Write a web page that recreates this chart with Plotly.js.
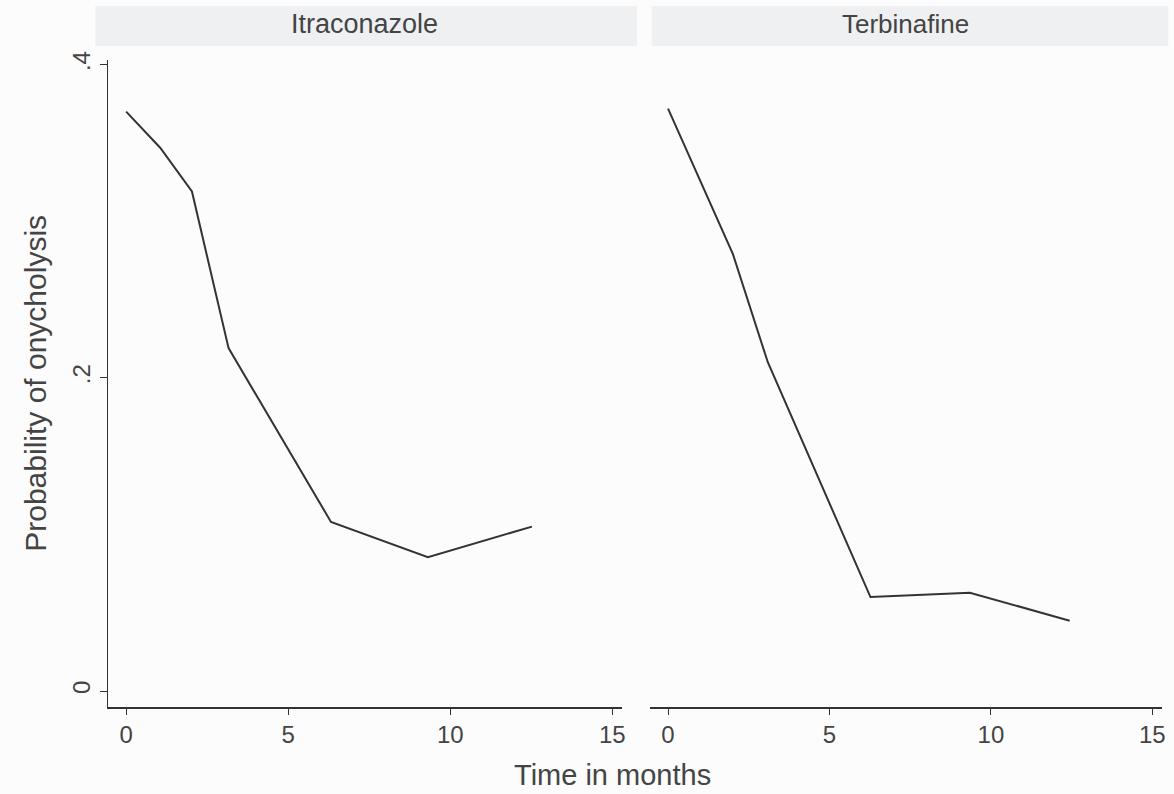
<!DOCTYPE html>
<html>
<head>
<meta charset="utf-8">
<script src="https://cdn.plot.ly/plotly-3.0.1.min.js"></script>
<style>html,body{margin:0;padding:0;background:#fcfcfd;}#chart{width:1174px;height:794px;}</style>
</head>
<body>
<div id="chart"></div>
<script>
// Panels
const panelNames = ["Itraconazole", "Terbinafine"];
// Itraconazole series
const monthsItra = [0, 1.05, 2.03, 3.16, 6.32, 9.31, 12.52];
const probItra = [0.370, 0.347, 0.319, 0.219, 0.108, 0.0855, 0.105];
// Terbinafine series
const monthsTerb = [0, 1.0, 2.01, 3.09, 6.27, 9.35, 12.44];
const probTerb = [0.372, 0.326, 0.279, 0.210, 0.060, 0.0628, 0.0449];
// Ticks
const xTickVals = [0, 5, 10, 15];
const xTickText = ["0", "5", "10", "15"];
const yTickVals = [0, 0.2, 0.4];
const yTickText = ["0", ".2", ".4"];
const xTitle = "Time in months";
const yTitle = "Probability of onycholysis";

const lineColor = "#333";
const textColor = "#444";
const fontFam = "Liberation Sans, Arial, sans-serif";

const traces = [
  {x: monthsItra, y: probItra, type: "scatter", mode: "lines", xaxis: "x", yaxis: "y",
   line: {color: lineColor, width: 2}, hoverinfo: "x+y"},
  {x: monthsTerb, y: probTerb, type: "scatter", mode: "lines", xaxis: "x2", yaxis: "y2",
   line: {color: lineColor, width: 2}, hoverinfo: "x+y"}
];

const xCommon = {
  range: [-0.56, 15.3], tickvals: xTickVals, ticktext: xTickText,
  showgrid: false, zeroline: false, showline: true, linecolor: lineColor, linewidth: 1.5,
  ticks: "outside", ticklen: 6, tickcolor: lineColor, tickwidth: 1,
  tickfont: {family: fontFam, size: 24, color: textColor}, fixedrange: true
};

const layout = {
  width: 1174, height: 794,
  margin: {l: 108, r: 12, t: 60, b: 87},
  paper_bgcolor: "#fcfcfd", plot_bgcolor: "#fcfcfd",
  showlegend: false,
  font: {family: fontFam, color: textColor},
  xaxis: Object.assign({}, xCommon, {domain: [0, 0.4877], anchor: "y"}),
  xaxis2: Object.assign({}, xCommon, {domain: [0.5142, 1], anchor: "y2"}),
  yaxis: {
    domain: [0, 1], range: [-0.0102, 0.403], tickvals: yTickVals, ticktext: yTickText,
    tickangle: -90, showgrid: false, zeroline: false, showline: true, linecolor: lineColor,
    linewidth: 1.5, ticks: "outside", ticklen: 7, tickcolor: lineColor,
    tickfont: {family: fontFam, size: 24, color: textColor}, anchor: "x", fixedrange: true
  },
  yaxis2: {
    domain: [0, 1], range: [-0.0102, 0.403], showgrid: false, zeroline: false,
    showline: false, showticklabels: false, ticks: "", anchor: "x2", fixedrange: true
  },
  shapes: [
    {type: "rect", xref: "paper", yref: "paper", x0: -0.012, x1: 0.502, y0: 1.0216, y1: 1.0835,
     fillcolor: "#eff0f2", line: {width: 0}, layer: "below"},
    {type: "rect", xref: "paper", yref: "paper", x0: 0.516, x1: 1.006, y0: 1.0216, y1: 1.0835,
     fillcolor: "#eff0f2", line: {width: 0}, layer: "below"}
  ],
  annotations: [
    {text: panelNames[0], xref: "paper", yref: "paper", x: 0.2438, y: 1.0549, showarrow: false,
     xanchor: "center", yanchor: "middle", font: {family: fontFam, size: 27, color: textColor}},
    {text: panelNames[1], xref: "paper", yref: "paper", x: 0.7571, y: 1.0549, showarrow: false,
     xanchor: "center", yanchor: "middle", font: {family: fontFam, size: 26, color: textColor}},
    {text: xTitle, xref: "paper", yref: "paper", x: 0.479, y: -0.105, showarrow: false,
     xanchor: "center", yanchor: "middle", font: {family: fontFam, size: 29, color: textColor}},
    {text: yTitle, xref: "paper", yref: "paper", x: -0.069, y: 0.5, showarrow: false,
     textangle: -90, xanchor: "center", yanchor: "middle",
     font: {family: fontFam, size: 30, color: textColor}}
  ]
};

Plotly.newPlot("chart", traces, layout, {displayModeBar: false, staticPlot: true});
</script>
</body>
</html>
